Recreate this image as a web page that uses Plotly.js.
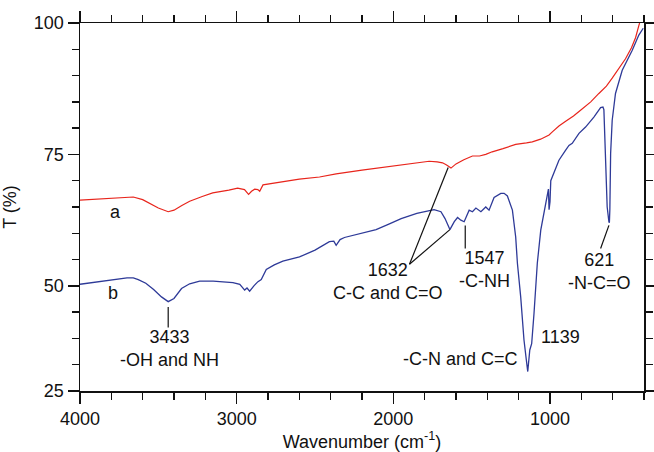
<!DOCTYPE html>
<html>
<head>
<meta charset="utf-8">
<script src="https://cdn.plot.ly/plotly-3.0.1.min.js"></script>
<style>html,body{margin:0;padding:0;background:#fff;}#chart{width:654px;height:452px;}</style>
</head>
<body>
<div id="chart"></div>
<script>
// Sample a (red)
var wnA = [4000,3900,3800,3700,3660,3600,3550,3500,3437,3400,3350,3300,3220,3153,3050,2994,2950,2924,2905,2885,2865,2853,2832,2700,2600,2471,2365,2200,2047,1900,1771,1720,1686,1660,1640,1632,1600,1550,1495,1450,1410,1369,1300,1219,1150,1113,1060,1006,985,943,900,850,805,740,688,640,603,560,518,480,454,433,428];
var tA  = [66.3,66.5,66.7,66.9,66.9,66.4,65.6,64.8,64.1,64.4,65.3,66.1,67.0,67.7,68.2,68.6,68.3,67.4,68.0,68.4,68.3,68.0,69.2,69.9,70.3,70.7,71.3,72.0,72.6,73.2,73.7,73.6,73.4,73.0,72.6,72.4,73.2,74.0,74.7,74.7,75.0,75.5,76.1,76.9,77.2,77.4,77.9,78.7,79.3,80.4,81.3,82.3,83.4,85.0,86.6,88.0,89.5,91.4,93.2,95.3,97.2,99.5,100.0];

// Sample b (blue)
var wnB = [4000,3900,3800,3700,3660,3628,3580,3530,3480,3437,3400,3370,3352,3300,3236,3150,3024,2980,2949,2934,2917,2890,2864,2843,2811,2760,2705,2599,2500,2408,2380,2365,2340,2312,2195,2110,2025,1950,1850,1771,1740,1696,1670,1639,1611,1590,1569,1548,1516,1495,1473,1441,1410,1389,1357,1314,1293,1272,1261,1240,1219,1208,1187,1166,1151,1142,1129,1117,1102,1081,1059,1027,1020,1010,1006,1000,995,943,900,879,858,815,773,720,677,662,656,650,646,642,635,624,621,618,613,603,582,539,475,433,412,405];
var tB  = [50.3,50.7,51.1,51.5,51.5,51.2,50.5,49.3,47.9,47.0,47.6,48.7,49.5,50.4,50.9,50.9,50.6,50.3,49.2,49.6,49.0,50.0,50.8,51.2,53.1,54.0,54.7,55.5,56.8,58.4,58.5,57.7,58.8,59.2,60.1,60.7,61.8,62.8,63.8,64.4,64.5,64.1,62.8,60.7,62.2,63.0,62.5,62.2,64.4,64.1,64.8,64.1,65.0,64.4,66.8,67.6,67.6,67.1,66.3,64.4,59.3,54.3,47.9,39.7,35.9,33.7,37.8,39.0,44.8,54.3,60.6,65.7,66.8,68.4,64.5,66.0,70.0,73.9,75.8,76.7,77.1,79.0,80.2,82.1,83.9,84.0,83.5,78.3,72.0,72.4,65.0,62.2,62.0,64.5,75.2,81.5,86.6,91.0,94.8,97.7,98.6,99.0];

var yTickVals = [30,50,75,100];
var yTickText = ['25','50','75','100'];
var xTickVals = [4000,3000,2000,1000];

var FONT = 'Arial, "Liberation Sans", sans-serif';
var txt = {family: FONT, size: 18, color: '#111'};

var traces = [
  {x: wnA, y: tA, type: 'scatter', mode: 'lines', name: 'a', line: {color: '#e8251c', width: 1.2}},
  {x: wnB, y: tB, type: 'scatter', mode: 'lines', name: 'b', line: {color: '#2e3a98', width: 1.3}}
];

function ann(x, y, text, xanchor) {
  return {x: x, y: y, xref: 'x', yref: 'y', text: text, showarrow: false, font: txt,
          xanchor: xanchor || 'center', yanchor: 'middle', align: 'center'};
}
function seg(x0, y0, x1, y1) {
  return {type: 'line', xref: 'x', yref: 'y', x0: x0, y0: y0, x1: x1, y1: y1,
          line: {color: '#111', width: 1.2}};
}

var layout = {
  width: 654, height: 452,
  margin: {l: 80, r: 10, t: 23, b: 61},
  paper_bgcolor: '#ffffff', plot_bgcolor: '#ffffff',
  showlegend: false,
  font: txt,
  xaxis: {
    range: [4000, 400], tickvals: xTickVals, ticks: 'outside', ticklen: 11, tickwidth: 1.5,
    tickcolor: '#111', showline: true, linecolor: '#111', linewidth: 1.5, mirror: 'allticks',
    showgrid: false, zeroline: false, tickfont: txt,
    minor: {dtick: 200, tick0: 0, ticks: 'outside', ticklen: 7, tickwidth: 1.5, tickcolor: '#111', showgrid: false},
    title: {text: 'Wavenumber (cm<sup>-1</sup>)', font: txt, standoff: 10}
  },
  yaxis: {
    range: [30, 100], tickmode: 'array', tickvals: yTickVals, ticktext: yTickText,
    ticks: 'outside', ticklen: 11, tickwidth: 1.5, tickcolor: '#111',
    showline: true, linecolor: '#111', linewidth: 1.5, mirror: 'allticks',
    showgrid: false, zeroline: false, tickfont: txt,
    minor: {dtick: 5, tick0: 0, ticks: 'outside', ticklen: 7, tickwidth: 1.5, tickcolor: '#111', showgrid: false},
    title: {text: 'T (%)', font: txt, standoff: 14}
  },
  annotations: [
    ann(3771, 64.0, 'a'),
    ann(3790, 48.55, 'b'),
    ann(3430, 38.0, '3433<br>-OH and NH'),
    ann(2036, 50.8, '1632<br>C-C and C=O'),
    ann(1418, 53.1, '1547<br>-C-NH'),
    ann(1070, 40.2, '1139', 'left'),
    ann(1574, 36.0, '-C-N and C=C'),
    ann(686, 52.7, '621<br>-N-C=O')
  ],
  shapes: [
    seg(3437, 46.0, 3437, 42.1),
    seg(1897, 54.1, 1650, 72.5),
    seg(1897, 54.1, 1639, 60.7),
    seg(1541, 61.5, 1541, 57.1),
    seg(624, 61.5, 677, 57.1)
  ]
};

Plotly.newPlot('chart', traces, layout, {displayModeBar: false, staticPlot: true});
</script>
</body>
</html>
